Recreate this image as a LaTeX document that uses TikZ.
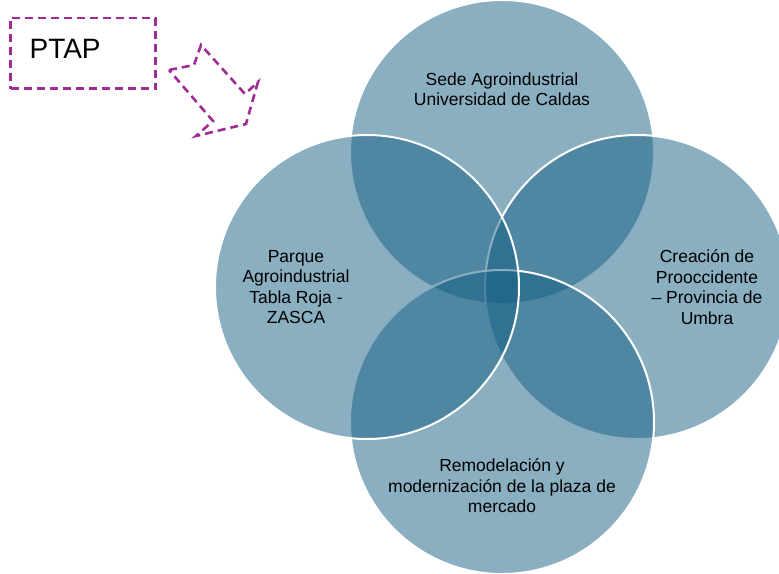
\documentclass[tikz,border=0pt]{standalone}
\usepackage{fontspec}
\setmainfont{Liberation Sans}
\definecolor{vennblue}{RGB}{21,95,131}
\definecolor{ptappurple}{RGB}{160,43,147}
\tikzset{
	venn/.style={circle,minimum size=304pt,inner sep=0pt,fill=vennblue,fill opacity=0.5,draw=white,draw opacity=1,line width=2pt},
	vennlabel/.style={align=center,text=black,font=\fontsize{17.5}{20.5}\selectfont},
	purpledash/.style={draw=ptappurple,line width=2.6pt,dash pattern=on 8pt off 5pt}
}
\begin{document}
\begin{tikzpicture}[x=1pt,y=-1pt]
		\useasboundingbox (0,0) rectangle (779,573);
		\clip (0,0) rectangle (779,573);

		% Four overlapping circles (drawn top, right, bottom, left)
		\node[venn] (sede) at (502,152) {};
		\node[venn] (prooc) at (637,287) {};
		\node[venn] (plaza) at (502,422) {};
		\node[venn] (parque) at (367,287) {};

		% Circle texts
		\node[vennlabel] (sedetxt) at (502,89) {Sede Agroindustrial\\Universidad de Caldas};
		\node[vennlabel] (prooctxt) at (707,287) {Creación de\\Prooccidente\\– Provincia de\\Umbra};
		\node[vennlabel] (plazatxt) at (502,486) {Remodelación y\\modernización de la plaza de\\mercado};
		\node[vennlabel] (parquetxt) at (296,287) {Parque\\Agroindustrial\\Tabla Roja -\\ZASCA};

		% PTAP box and notched arrow
		\node[purpledash,anchor=north west,minimum width=145pt,minimum height=70.6pt,text width=107pt,inner xsep=19pt,align=left,text depth=8pt,font=\fontsize{28}{30}\selectfont] (ptap) at (9.3,16.7) {PTAP};
		\draw[purpledash] (169,70) -- (194,65) -- (201,45) -- (245,94) -- (258,82) -- (246,124) -- (196,136) -- (213,121) -- cycle;
	\end{tikzpicture}
\end{document}
